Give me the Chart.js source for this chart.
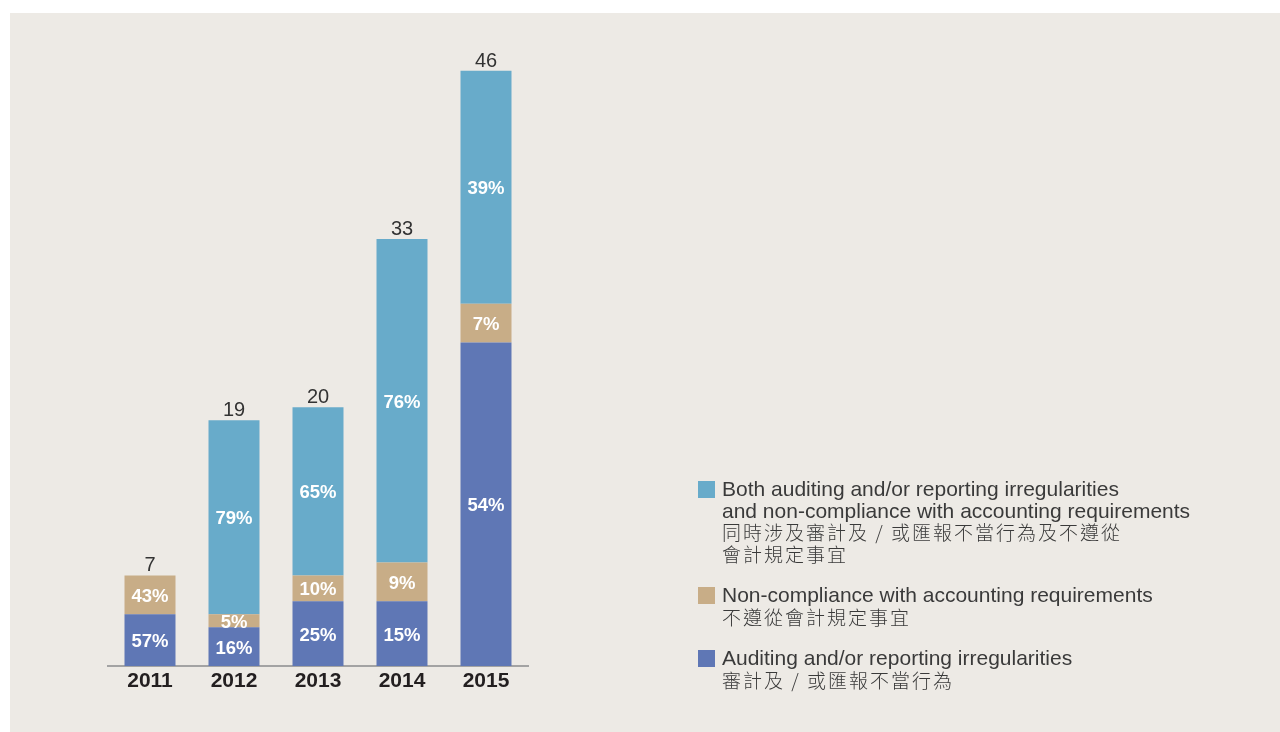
<!DOCTYPE html>
<html>
<head>
<meta charset="utf-8">
<script src="https://cdn.jsdelivr.net/npm/chart.js@4.4.1/dist/chart.umd.min.js"></script>
<style>
  body { margin: 0; background: #fff; }
  #panel { position: absolute; left: 10px; top: 13px; width: 1270px; height: 719px; background: #edeae5; }
  #wrap { position: absolute; left: 0; top: 0; width: 1280px; height: 732px; }
  #legend { position: absolute; left: 698px; top: 478px; font-family: "Liberation Sans", Arial, sans-serif; color: #3a3a3a; }
  .item { position: relative; padding-left: 24px; margin-bottom: 20px; }
  .item .box { position: absolute; left: 0; top: 3px; width: 17px; height: 17px; }
  .item .en { font-size: 21px; line-height: 21.5px; }
  .item .zh { font-family: "Noto Sans CJK TC", sans-serif; font-size: 19px; letter-spacing: 2px; line-height: 21.5px; font-weight: 300; }
</style>
</head>
<body>
<div id="panel"></div>
<div id="wrap"><canvas id="chart"></canvas></div>
<div id="legend"></div>
<script>
// --- Dati (numero di casi per anno) ---
const years = ['2011', '2012', '2013', '2014', '2015'];
const auditing = [4, 3, 5, 5, 25];       // Auditing and/or reporting irregularities
const nonCompliance = [3, 1, 2, 3, 3];   // Non-compliance with accounting requirements
const both = [0, 15, 13, 25, 18];        // Both

const colors = { auditing: '#5f77b5', nonCompliance: '#c8ad87', both: '#68abca' };

const legendItems = [
  { color: colors.both, en: ['Both auditing and/or reporting irregularities', 'and non-compliance with accounting requirements'], zh: ['同時涉及審計及 / 或匯報不當行為及不遵從', '會計規定事宜'] },
  { color: colors.nonCompliance, en: ['Non-compliance with accounting requirements'], zh: ['不遵從會計規定事宜'] },
  { color: colors.auditing, en: ['Auditing and/or reporting irregularities'], zh: ['審計及 / 或匯報不當行為'] }
];

const totals = years.map((_, i) => auditing[i] + nonCompliance[i] + both[i]);

// --- Etichette: percentuali dentro i segmenti e totale sopra ---
const labelsPlugin = {
  id: 'barLabels',
  afterDatasetsDraw(chart) {
    const c = chart.ctx;
    c.save();
    c.textAlign = 'center';
    c.textBaseline = 'middle';
    c.font = 'bold 18.5px "Liberation Sans", Arial, sans-serif';
    c.fillStyle = '#ffffff';
    chart.data.datasets.forEach((ds, di) => {
      const meta = chart.getDatasetMeta(di);
      meta.data.forEach((bar, i) => {
        const v = ds.data[i];
        if (!v) return;
        const pct = Math.round(v / totals[i] * 100) + '%';
        c.fillText(pct, bar.x, (bar.y + bar.base) / 2 + 2);
      });
    });
    // totali
    const last = chart.getDatasetMeta(chart.data.datasets.length - 1);
    c.font = '20px "Liberation Sans", Arial, sans-serif';
    c.fillStyle = '#333333';
    c.textBaseline = 'alphabetic';
    last.data.forEach((bar, i) => {
      const y = chart.scales.y.getPixelForValue(totals[i]);
      c.fillText(String(totals[i]), bar.x, y - 4);
    });
    c.restore();
  }
};

new Chart(document.getElementById('chart'), {
  type: 'bar',
  data: {
    labels: years,
    datasets: [
      { label: 'Auditing and/or reporting irregularities', data: auditing, backgroundColor: colors.auditing },
      { label: 'Non-compliance with accounting requirements', data: nonCompliance, backgroundColor: colors.nonCompliance },
      { label: 'Both', data: both, backgroundColor: colors.both }
    ]
  },
  options: {
    responsive: true,
    maintainAspectRatio: false,
    animation: false,
    categoryPercentage: 1,
    barPercentage: 0.607,
    layout: { padding: { left: 108, right: 752, top: 19, bottom: 32 } },
    scales: {
      x: {
        stacked: true,
        grid: { display: false, drawTicks: false },
        border: { display: true, color: '#a3a3a3', width: 2 },
        ticks: { color: '#231f20', padding: 3, font: { family: '"Liberation Sans", Arial, sans-serif', size: 21, weight: 'bold' } },
        afterFit(scale) { scale.height = 34; }
      },
      y: { stacked: true, display: false, min: 0, max: 50 }
    },
    plugins: { legend: { display: false }, tooltip: { enabled: false } }
  },
  plugins: [labelsPlugin]
});

// --- Legenda HTML ---
const legendEl = document.getElementById('legend');
legendItems.forEach(item => {
  const div = document.createElement('div');
  div.className = 'item';
  div.innerHTML = `<span class="box" style="background:${item.color}"></span>` +
    item.en.map(t => `<div class="en">${t}</div>`).join('') +
    item.zh.map(t => `<div class="zh">${t}</div>`).join('');
  legendEl.appendChild(div);
});
</script>
</body>
</html>
